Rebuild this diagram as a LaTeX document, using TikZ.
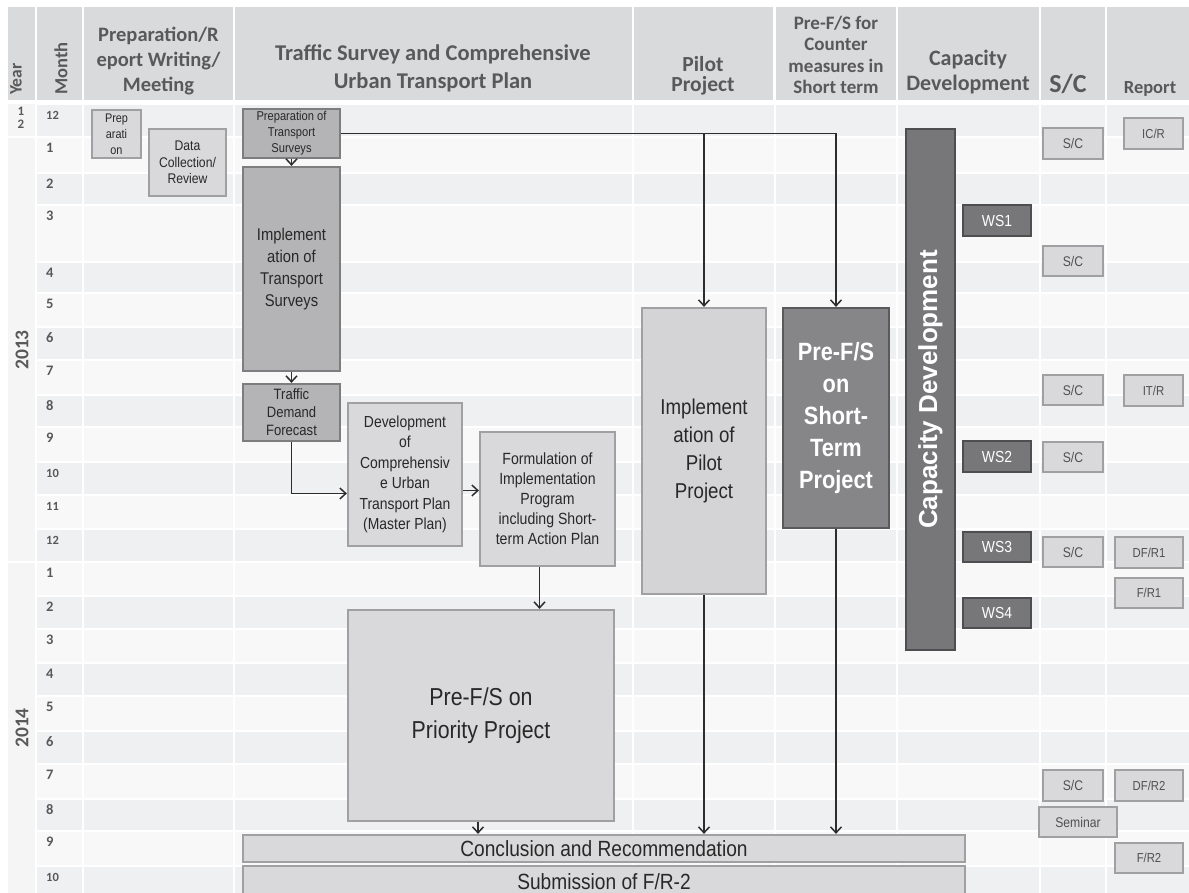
\documentclass[tikz,border=0pt]{standalone}
\usepackage{fontspec}
\setmainfont{Liberation Sans}
\newfontfamily\narfont[FakeStretch=0.87]{Liberation Sans}
\newfontfamily\hdrfont{Carlito}
\usetikzlibrary{arrows.meta}
\definecolor{hdrfill}{RGB}{217,218,220}
\definecolor{rowdark}{RGB}{239,240,242}
\definecolor{rowlight}{RGB}{248,248,248}
\definecolor{yearfill}{RGB}{245,245,246}
\definecolor{hdrtext}{RGB}{89,89,89}
\definecolor{boxl}{RGB}{217,217,219}
\definecolor{boxlb}{RGB}{160,160,162}
\definecolor{boxm}{RGB}{180,180,182}
\definecolor{boxmb}{RGB}{125,125,127}
\definecolor{boxp}{RGB}{212,212,214}
\definecolor{boxd}{RGB}{134,134,136}
\definecolor{boxdb}{RGB}{90,90,92}
\definecolor{boxw}{RGB}{119,119,122}
\definecolor{boxwb}{RGB}{78,78,80}
\definecolor{txtd}{RGB}{40,40,40}
\definecolor{txts}{RGB}{80,80,80}
\definecolor{arrc}{RGB}{45,45,45}
\newcommand{\fs}[2]{\fontsize{#1}{#2}\selectfont}
\newcommand{\bx}[7]{\node[#6, minimum width={(#4-#2)*1pt}, minimum height={(#5-#3)*1pt}] (#1) at ({(#2+#4)/2},{(#3+#5)/2}) {#7};}
\tikzset{
 lbox/.style={draw=boxlb, fill=boxl, line width=2.2pt, inner sep=0pt, align=center, text=txtd},
 mbox/.style={draw=boxmb, fill=boxm, line width=2.2pt, inner sep=0pt, align=center, text=txtd},
 dbox/.style={draw=boxdb, fill=boxd, line width=2.2pt, inner sep=0pt, align=center, text=white},
 wbox/.style={draw=boxwb, fill=boxw, line width=2.2pt, inner sep=0pt, align=center, text=white},
 sbox/.style={lbox, text=txts, font=\narfont\fs{14}{16}},
 rbox/.style={lbox, text=txts, font=\narfont\fs{13}{15}},
 wsbox/.style={wbox, font=\narfont\fs{16}{18}},
 arr/.style={draw=arrc, line width=1.5pt, -{Straight Barb[length=6pt,width=11pt]}},
 ln/.style={draw=arrc, line width=1.5pt},
 hdr/.style={text=hdrtext, align=center, inner sep=0pt},
 mon/.style={text=hdrtext, inner sep=0pt, anchor=west, font=\hdrfont\bfseries\fs{14.5}{16}},
 mon2/.style={text=hdrtext, inner sep=0pt, anchor=west, font=\hdrfont\bfseries\fs{12.5}{14}}
}
\begin{document}
\begin{tikzpicture}[x=1pt,y=-1pt]
\useasboundingbox (0,0) rectangle (1189,893);
\fill[white] (0,0) rectangle (1189,893);
% header cells
\foreach \a/\b in {8/35,37/82,84/233,235/632,634/773,776/896,898/1039,1041/1105,1107/1189}
  \fill[hdrfill] (\a,7) rectangle (\b,100);
% body rows
\foreach \t/\b/\c in {104/137/rowdark,137/173/rowlight,173/205/rowdark,205/262/rowlight,262/293/rowdark,293/327/rowlight,327/360/rowdark,360/395/rowlight,395/427/rowdark,427/462/rowlight,462/495/rowdark,495/529/rowlight,529/562/rowdark,562/596/rowlight,596/629/rowdark,629/663/rowlight,663/696/rowdark,696/731/rowlight,731/764/rowdark,764/799/rowlight,799/831/rowdark,831/866/rowlight,866/900/rowdark}
  \fill[\c] (37,\t+0.8) rectangle (1189,\b-0.8);
\foreach \x in {83,234,633,774.5,897,1040,1106}
  \draw[white,line width=2pt] (\x,104) -- (\x,900);
\fill[yearfill] (8,104) rectangle (35,136.2);
\fill[yearfill] (8,137.8) rectangle (35,561.2);
\fill[yearfill] (8,562.8) rectangle (35,900);
% header texts
\node[hdr, rotate=90, anchor=west, font=\hdrfont\bfseries\fs{17.5}{20}] (hyear) at (16,95) {Year};
\node[hdr, rotate=90, anchor=west, font=\hdrfont\bfseries\fs{18.5}{20}] (hmonth) at (61,95) {Month};
\node[hdr, font=\hdrfont\bfseries\fs{20.5}{25}] (hprep) at (158.5,61) {Preparation/R\\eport Writing/\\Meeting};
\node[hdr, font=\hdrfont\bfseries\fs{22.5}{28}] (htraf) at (433,68.5) {Traffic Survey and Comprehensive\\Urban Transport Plan};
\node[hdr, font=\hdrfont\bfseries\fs{21.5}{20}] (hpilot) at (703,76) {Pilot\\Project};
\node[hdr, font=\hdrfont\bfseries\fs{19}{21.5}] (hpfs) at (836,55) {Pre-F/S for\\Counter\\measures in\\Short term};
\node[hdr, font=\hdrfont\bfseries\fs{22}{25.5}] (hcap) at (968,72) {Capacity\\Development};
\node[hdr, font=\hdrfont\bfseries\fs{26}{28}] (hsc) at (1068,84) {S/C};
\node[hdr, font=\hdrfont\bfseries\fs{18.5}{20}] (hrep) at (1150,89) {Report};
% year labels
\node[hdr, font=\hdrfont\bfseries\fs{13}{13}] (y12) at (21,118) {1\\2};
\node[hdr, rotate=90, font=\hdrfont\bfseries\fs{19.5}{20}] (y13) at (22,350) {2013};
\node[hdr, rotate=90, font=\hdrfont\bfseries\fs{19.5}{20}] (y14) at (22,728) {2014};
% month labels
\foreach \t/\m in {137/1,173/2,205/3,262/4,293/5,327/6,360/7,395/8,427/9,562/1,596/2,629/3,663/4,696/5,731/6,764/7,799/8,831/9}
  \node[mon] (m\t) at (46,\t+11) {\m};
\foreach \t/\m in {104/12,462/10,495/11,529/12,866/10}
  \node[mon2] (m\t) at (46,\t+11) {\m};
% boxes
\bx{prep}{92}{110}{141}{158}{lbox,font=\narfont\fs{12.5}{16}}{Prep\\arati\\on}
\bx{data}{149}{129}{226}{196}{lbox,font=\narfont\fs{14}{16.5}}{Data\\Collection/\\Review}
\bx{prepts}{243}{109}{340}{158}{mbox,font=\narfont\fs{12.8}{16}}{Preparation of\\Transport\\Surveys}
\bx{impts}{243}{167}{340}{371}{mbox,font=\narfont\fs{17}{22}}{Implement\\ation of\\Transport\\Surveys}
\bx{tdf}{243}{384}{340}{441}{mbox,font=\narfont\fs{15}{18}}{Traffic\\Demand\\Forecast}
\bx{dev}{348}{403}{462}{546}{lbox,font=\narfont\fs{16}{20.5}}{Development\\of\\Comprehensiv\\e Urban\\Transport Plan\\(Master Plan)}
\bx{form}{480}{432}{615}{566}{lbox,font=\narfont\fs{16.2}{20}}{Formulation of\\Implementation\\Program\\including Short-\\term Action Plan}
\bx{prio}{348}{610}{614}{821}{lbox,font=\narfont\fs{24.5}{33}}{Pre-F/S on\\Priority Project}
\bx{pilot}{642}{308}{766}{594}{lbox,fill=boxp,font=\narfont\fs{21.5}{28}}{Implement\\ation of\\Pilot\\Project}
\bx{stp}{783}{308}{889}{528}{dbox,font=\narfont\bfseries\fs{25}{32}}{Pre-F/S\\on\\Short-\\Term\\Project}
\bx{cap}{906}{129}{955}{650}{wbox}{}
\node[rotate=90, text=white, inner sep=0pt, font=\bfseries\fs{26}{30}] (captext) at (cap.center) {Capacity Development};
\bx{ws1}{963}{205}{1031}{236}{wsbox}{WS1}
\bx{ws2}{963}{441}{1031}{472}{wsbox}{WS2}
\bx{ws3}{963}{532}{1031}{562}{wsbox}{WS3}
\bx{ws4}{963}{598}{1031}{628}{wsbox}{WS4}
\bx{sc1}{1043}{128}{1103}{159}{sbox}{S/C}
\bx{sc2}{1043}{246}{1103}{276}{sbox}{S/C}
\bx{sc3}{1043}{375}{1103}{405}{sbox}{S/C}
\bx{sc4}{1043}{442}{1103}{472}{sbox}{S/C}
\bx{sc5}{1043}{537}{1103}{567}{sbox}{S/C}
\bx{sc6}{1043}{770}{1103}{801}{sbox}{S/C}
\bx{sem}{1039}{807}{1117}{837}{sbox}{Seminar}
\bx{icr}{1124}{118}{1183}{149}{rbox}{IC/R}
\bx{itr}{1124}{375}{1183}{406}{rbox}{IT/R}
\bx{dfr1}{1115}{537}{1183}{568}{rbox}{DF/R1}
\bx{fr1}{1115}{578}{1183}{608}{rbox}{F/R1}
\bx{dfr2}{1115}{770}{1183}{801}{rbox}{DF/R2}
\bx{fr2}{1115}{843}{1183}{873}{rbox}{F/R2}
\bx{concl}{243}{835}{965}{862}{lbox,font=\narfont\fs{22}{24}}{Conclusion and Recommendation}
\bx{subm}{243}{866}{965}{898}{lbox,font=\narfont\fs{22}{24}}{Submission of F/R-2}
% connectors
\draw[arr] (prepts.south) -- (impts.north);
\draw[arr] (impts.south) -- (tdf.north);
\draw[arr] (tdf.south) |- ([yshift=-19pt]dev.west);
\draw[arr] ([yshift=-16pt]dev.east) -- ([yshift=-16pt]dev.east -| form.west);
\draw[arr] ([xshift=-8pt]form.south) -- ([xshift=-8pt]form.south |- prio.north);
\draw[arr] ([xshift=-3pt]prio.south) -- ([xshift=-3pt]prio.south |- concl.north);
\coordinate (jp) at (pilot.north |- prepts.east);
\coordinate (js) at (stp.north |- prepts.east);
\draw[ln] (prepts.east) -- (js);
\draw[arr] (js) -- (stp.north);
\draw[arr] (jp) -- (pilot.north);
\draw[arr] (pilot.south) -- (pilot.south |- concl.north);
\draw[arr] (stp.south) -- (stp.south |- concl.north);
\end{tikzpicture}
\end{document}
